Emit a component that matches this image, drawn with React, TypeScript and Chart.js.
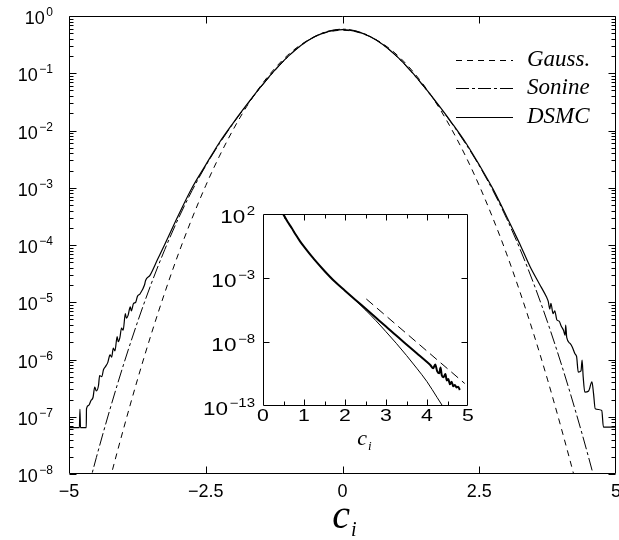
import React, { useEffect, useRef } from 'react';
import { Chart, registerables } from 'chart.js';

Chart.register(...registerables);

// ---------------- Main panel data ----------------
const xTickValues = [-5, -2.5, 0, 2.5, 5];
const yTickExponents = [0, -1, -2, -3, -4, -5, -6, -7, -8];

const gaussC = [
  -4.5, -4.25, -4, -3.75, -3.5, -3.25, -3, -2.75, -2.5, -2.25, -2, -1.75, -1.5, -1.25, -1, -0.75, -0.5, -0.25,
  0,
  0.25, 0.5, 0.75, 1, 1.25, 1.5, 1.75, 2, 2.25, 2.5, 2.75, 3, 3.25, 3.5, 3.75, 4, 4.25, 4.5,
];
const gaussF = [
  9.0e-10, 8.1e-9, 6.3e-8, 4.4e-7, 2.7e-6, 1.46e-5, 7.0e-5, 2.93e-4, 1.09e-3, 3.57e-3, 1.03e-2, 2.64e-2, 5.95e-2, 0.118, 0.208, 0.321, 0.439, 0.53,
  0.564,
  0.53, 0.439, 0.321, 0.208, 0.118, 5.95e-2, 2.64e-2, 1.03e-2, 3.57e-3, 1.09e-3, 2.93e-4, 7.0e-5, 1.46e-5, 2.7e-6, 4.4e-7, 6.3e-8, 8.1e-9, 9.0e-10,
];

const sonineC = [
  -4.75, -4.5, -4.25, -4, -3.75, -3.5, -3.25, -3, -2.75, -2.5, -2.25, -2, -1.75, -1.5, -1.25, -1, -0.75, -0.5, -0.25,
  0,
  0.25, 0.5, 0.75, 1, 1.25, 1.5, 1.75, 2, 2.25, 2.5, 2.75, 3, 3.25, 3.5, 3.75, 4, 4.25, 4.5, 4.75,
];
const sonineF = [
  2.4e-9, 1.94e-8, 1.36e-7, 8.32e-7, 4.44e-6, 2.06e-5, 8.28e-5, 2.91e-4, 8.91e-4, 2.42e-3, 5.89e-3, 1.32e-2, 2.78e-2, 5.62e-2, 0.108, 0.192, 0.31, 0.442, 0.547,
  0.589,
  0.547, 0.442, 0.31, 0.192, 0.108, 5.62e-2, 2.78e-2, 1.32e-2, 5.89e-3, 2.42e-3, 8.91e-4, 2.91e-4, 8.28e-5, 2.06e-5, 4.44e-6, 8.32e-7, 1.36e-7, 1.94e-8, 2.4e-9,
];

const dsmcC = [
  -5.0, -4.81, -4.8, -4.79, -4.685, -4.68, -4.64, -4.6, -4.56, -4.53, -4.5, -4.46, -4.44, -4.4, -4.37, -4.33, -4.29,
  -4.25, -4.22, -4.19, -4.16, -4.12, -4.1, -4.07, -4.04, -4.01, -3.97, -3.95, -3.92, -3.88, -3.86, -3.82, -3.78,
  -3.75, -3.7, -3.62, -3.6, -3.52, -3.38, -3.25, -3.0, -2.75, -2.5, -2.25, -2.0, -1.75, -1.5, -1.25, -1.0, -0.75,
  -0.5, -0.25, 0, 0.25, 0.5, 0.75, 1.0, 1.25, 1.5, 1.75, 2.0, 2.25, 2.5, 2.75, 3.0, 3.12, 3.25, 3.43, 3.6, 3.73,
  3.76, 3.79, 3.81, 3.85, 3.88, 3.92, 3.96, 4.0, 4.04, 4.07, 4.08, 4.1, 4.16, 4.2, 4.25, 4.28, 4.31, 4.36, 4.38,
  4.4, 4.43, 4.5, 4.56, 4.59, 4.62, 4.74, 4.77, 5.0,
];
const dsmcF = [
  6.46e-8, 6.46e-8, 1.35e-7, 6.46e-8, 6.46e-8, 1.38e-7, 1.58e-7, 1.91e-7, 2.19e-7, 3.31e-7, 2.82e-7, 3.55e-7, 5.25e-7, 5.01e-7, 6.61e-7, 7.59e-7, 8.91e-7,
  1.2e-6, 1.1e-6, 1.58e-6, 1.41e-6, 2.51e-6, 2.04e-6, 2.4e-6, 3.55e-6, 3.24e-6, 6.31e-6, 5.25e-6, 5.89e-6, 8.32e-6, 7.08e-6, 9.55e-6, 1.0e-5,
  1.26e-5, 1.41e-5, 2.0e-5, 2.4e-5, 2.95e-5, 5.62e-5, 1.02e-4, 3.31e-4, 1.0e-3, 2.51e-3, 6.17e-3, 1.35e-2, 2.82e-2, 5.7e-2, 0.11, 0.195, 0.312,
  0.44, 0.54, 0.58, 0.54, 0.44, 0.312, 0.195, 0.11, 5.7e-2, 2.82e-2, 1.35e-2, 6.17e-3, 2.51e-3, 9.55e-4, 3.16e-4, 1.82e-4, 1.0e-4, 4.17e-5, 2.09e-5, 1.23e-5,
  1.05e-5, 7.59e-6, 9.55e-6, 6.31e-6, 7.08e-6, 4.9e-6, 4.68e-6, 3.8e-6, 3.24e-6, 2.63e-6, 3.98e-6, 2.4e-6, 1.91e-6, 1.66e-6, 1.26e-6, 1.12e-6, 6.03e-7, 6.31e-7, 9.77e-7,
  5.01e-7, 2.69e-7, 2.82e-7, 4.07e-7, 2.51e-7, 1.38e-7, 1.29e-7, 6.6e-8, 6.6e-8,
];

// ---------------- Inset data ----------------
const insetXTickValues = [0, 1, 2, 3, 4, 5];
const insetYTickExponents = [2, -3, -8, -13];

const insetDsmcC = [
  0.45, 0.5, 0.6, 0.7, 0.8, 0.9, 1.0, 1.25, 1.5, 1.75, 2.0, 2.25, 2.5, 2.75, 3.0, 3.25, 3.5, 3.75, 4.0,
  4.08, 4.15, 4.2, 4.25, 4.3, 4.33, 4.36, 4.4, 4.45, 4.48, 4.52, 4.56, 4.6, 4.64, 4.68, 4.72, 4.76, 4.8,
];
const insetDsmcF = [
  158, 89.1, 25.1, 7.94, 2.4, 0.759, 0.282, 2.82e-2, 3.55e-3, 5.25e-4, 1.02e-4, 2.04e-5, 4.07e-6, 8.13e-7, 1.62e-7, 3.16e-8, 6.46e-9, 1.32e-9, 2.69e-10,
  1.58e-10, 8.91e-11, 1.78e-10, 5.01e-11, 3.55e-11, 1.0e-10, 2.51e-11, 1.78e-11, 3.16e-11, 1.0e-11, 1.26e-11, 5.01e-12, 7.94e-12, 3.55e-12, 4.47e-12, 2.82e-12, 3.16e-12, 1.78e-12,
];

const insetSonineC = [0.45, 0.5, 0.6, 0.7, 0.8, 0.9, 1.0, 1.25, 1.5, 1.75, 2.0, 2.25, 2.5, 2.75, 3.0, 3.25, 3.5, 3.75, 4.0, 4.25, 4.5];
const insetSonineF = [
  158, 89.1, 25.1, 7.94, 2.4, 0.759, 0.282, 2.82e-2, 3.55e-3, 5.25e-4, 1.02e-4, 1.91e-5, 3.16e-6, 4.79e-7, 6.31e-8, 7.94e-9, 8.91e-10, 8.91e-11, 7.94e-12, 4.47e-13, 2.51e-14,
];

const insetTailC = [2.52, 4.92];
const insetTailF = [2.29e-5, 5.75e-12];

// ---------------- Text ----------------
const xTitleBase = 'c';
const xTitleSub = 'i';
const powBase = '10';

const SANS = '"Liberation Sans", Arial, Helvetica, sans-serif';
const SERIF = '"Liberation Serif", "Times New Roman", Times, serif';

const numLabel = (v: number) => (v < 0 ? '\u2212' + String(Math.abs(v)) : String(v));
const expLabel = (e: number) => (e < 0 ? '\u2212' + String(Math.abs(e)) : String(e));

const pts = (xs: number[], ys: number[]) => xs.map((x, i) => ({ x, y: ys[i] }));

type TickSpec = {
  xMajor: number[];
  xMinor: number[];
  yMajor: number[];
  yMinor: number[];
  majorLen: number;
  minorLen: number;
};

function drawFrameAndTicks(chart: any, spec: TickSpec) {
  const ctx = chart.ctx as CanvasRenderingContext2D;
  const { left, right, top, bottom } = chart.chartArea;
  const xs = chart.scales.x;
  const ys = chart.scales.y;
  const L = Math.round(left) + 0.5;
  const R = Math.round(right) - 0.5;
  const T = Math.round(top) + 0.5;
  const B = Math.round(bottom) - 0.5;
  ctx.save();
  ctx.strokeStyle = '#000';
  ctx.lineWidth = 1;
  ctx.setLineDash([]);
  ctx.beginPath();
  ctx.rect(L, T, R - L, B - T);
  const xt = (v: number, len: number) => {
    const p = Math.round(xs.getPixelForValue(v)) + 0.5;
    ctx.moveTo(p, T);
    ctx.lineTo(p, T + len);
    ctx.moveTo(p, B);
    ctx.lineTo(p, B - len);
  };
  const yt = (v: number, len: number) => {
    const p = Math.round(ys.getPixelForValue(v)) + 0.5;
    ctx.moveTo(L, p);
    ctx.lineTo(L + len, p);
    ctx.moveTo(R, p);
    ctx.lineTo(R - len, p);
  };
  spec.xMajor.forEach((v) => xt(v, spec.majorLen));
  spec.xMinor.forEach((v) => xt(v, spec.minorLen));
  spec.yMajor.forEach((v) => yt(v, spec.majorLen));
  spec.yMinor.forEach((v) => yt(v, spec.minorLen));
  ctx.stroke();
  ctx.restore();
}

type PowOpts = {
  rightX: number;
  baseSize: number;
  supSize: number;
  baseDy: number;
  supDy: number;
  gap: number;
  stretch: number;
};

function drawPowLabels(chart: any, exps: number[], o: PowOpts) {
  const ctx = chart.ctx as CanvasRenderingContext2D;
  const ys = chart.scales.y;
  ctx.save();
  ctx.fillStyle = '#000';
  ctx.textBaseline = 'alphabetic';
  ctx.textAlign = 'left';
  exps.forEach((e) => {
    const y = ys.getPixelForValue(Math.pow(10, e));
    const sup = expLabel(e);
    ctx.font = `${o.baseSize}px ${SANS}`;
    const wb = ctx.measureText(powBase).width * o.stretch;
    ctx.font = `${o.supSize}px ${SANS}`;
    const ws = ctx.measureText(sup).width * o.stretch;
    const x0 = o.rightX - (wb + o.gap + ws);
    ctx.save();
    ctx.translate(x0, y + o.baseDy);
    ctx.scale(o.stretch, 1);
    ctx.font = `${o.baseSize}px ${SANS}`;
    ctx.fillText(powBase, 0, 0);
    ctx.restore();
    ctx.save();
    ctx.translate(x0 + wb + o.gap, y + o.supDy);
    ctx.scale(o.stretch, 1);
    ctx.font = `${o.supSize}px ${SANS}`;
    ctx.fillText(sup, 0, 0);
    ctx.restore();
  });
  ctx.restore();
}

function drawSubTitle(ctx: CanvasRenderingContext2D, cx: number, baseY: number, size: number, subSize: number, subDy: number) {
  ctx.save();
  ctx.fillStyle = '#000';
  ctx.textBaseline = 'alphabetic';
  ctx.textAlign = 'left';
  ctx.font = `italic ${size}px ${SERIF}`;
  const wBase = ctx.measureText(xTitleBase).width;
  ctx.font = `italic ${subSize}px ${SERIF}`;
  const wSub = ctx.measureText(xTitleSub).width;
  const x0 = cx - (wBase + wSub) / 2;
  ctx.font = `italic ${size}px ${SERIF}`;
  ctx.fillText(xTitleBase, x0, baseY);
  ctx.font = `italic ${subSize}px ${SERIF}`;
  ctx.fillText(xTitleSub, x0 + wBase + 1, baseY + subDy);
  ctx.restore();
}

export default function App() {
  const mainRef = useRef<HTMLCanvasElement | null>(null);
  const insetRef = useRef<HTMLCanvasElement | null>(null);

  useEffect(() => {
    if (!mainRef.current || !insetRef.current) return;

    const mainYMajor: number[] = [];
    const mainYMinor: number[] = [];
    for (let e = -8; e <= 0; e++) {
      mainYMajor.push(Math.pow(10, e));
      if (e < 0) for (let m = 2; m <= 9; m++) mainYMinor.push(m * Math.pow(10, e));
    }

    const mainPlugin = {
      id: 'mainDecor',
      afterDatasetsDraw(chart: any) {
        drawFrameAndTicks(chart, {
          xMajor: [-2.5, 0, 2.5],
          xMinor: [],
          yMajor: mainYMajor,
          yMinor: mainYMinor,
          majorLen: 7,
          minorLen: 4,
        });
        drawPowLabels(chart, yTickExponents, {
          rightX: chart.chartArea.left - 16,
          baseSize: 18,
          supSize: 12,
          baseDy: 8,
          supDy: 0,
          gap: 1.5,
          stretch: 1,
        });
        const ctx = chart.ctx as CanvasRenderingContext2D;
        const rows = [60, 88.3, 116.7];
        chart.data.datasets.forEach((ds: any, i: number) => {
          const y = Math.round(rows[i]) + 0.5;
          ctx.save();
          ctx.strokeStyle = '#000';
          ctx.lineWidth = ds.borderWidth;
          ctx.setLineDash(ds.borderDash || []);
          ctx.beginPath();
          ctx.moveTo(456, y);
          ctx.lineTo(513, y);
          ctx.stroke();
          ctx.setLineDash([]);
          ctx.fillStyle = '#000';
          ctx.font = `italic 23px ${SERIF}`;
          ctx.textBaseline = 'middle';
          ctx.textAlign = 'left';
          ctx.fillText(ds.label, 527, rows[i]);
          ctx.restore();
        });
        drawSubTitle(ctx, 344, 528, 40, 20, 8);
      },
    };

    const main = new Chart(mainRef.current, {
      type: 'line',
      data: {
        datasets: [
          {
            label: 'Gauss.',
            data: pts(gaussC, gaussF),
            borderColor: '#000',
            borderWidth: 1,
            borderDash: [6, 5],
            pointRadius: 0,
            fill: false,
            cubicInterpolationMode: 'monotone',
          },
          {
            label: 'Sonine',
            data: pts(sonineC, sonineF),
            borderColor: '#000',
            borderWidth: 1,
            borderDash: [13, 3, 3, 3],
            pointRadius: 0,
            fill: false,
            cubicInterpolationMode: 'monotone',
          },
          {
            label: 'DSMC',
            data: pts(dsmcC, dsmcF),
            borderColor: '#000',
            borderWidth: 1.2,
            borderDash: [],
            pointRadius: 0,
            fill: false,
            cubicInterpolationMode: 'monotone',
          },
        ],
      },
      options: {
        responsive: false,
        animation: false,
        devicePixelRatio: 1,
        layout: { padding: { top: 16, right: 24, left: 0, bottom: 0 } },
        plugins: { legend: { display: false }, tooltip: { enabled: false }, title: { display: false } },
        scales: {
          x: {
            type: 'linear',
            min: -5,
            max: 5,
            afterBuildTicks: (s: any) => {
              s.ticks = xTickValues.map((v) => ({ value: v }));
            },
            afterFit: (s: any) => {
              s.height = 66;
            },
            grid: { display: false, drawTicks: false },
            border: { display: false },
            ticks: {
              color: '#000',
              font: { family: SANS, size: 18 },
              padding: 7,
              maxRotation: 0,
              autoSkip: false,
              callback: (v: any) => numLabel(Number(v)),
            },
          },
          y: {
            type: 'logarithmic',
            min: 1e-8,
            max: 1,
            afterBuildTicks: (s: any) => {
              s.ticks = yTickExponents.map((e) => ({ value: Math.pow(10, e) }));
            },
            afterFit: (s: any) => {
              s.width = 69;
            },
            grid: { display: false, drawTicks: false },
            border: { display: false },
            ticks: { display: false },
          },
        },
      },
      plugins: [mainPlugin],
    } as any);

    const insetPlugin = {
      id: 'insetDecor',
      afterDatasetsDraw(chart: any) {
        drawFrameAndTicks(chart, {
          xMajor: [1, 2, 3, 4],
          xMinor: [0.5, 1.5, 2.5, 3.5, 4.5],
          yMajor: [1e-3, 1e-8],
          yMinor: [],
          majorLen: 6,
          minorLen: 4,
        });
        drawPowLabels(chart, insetYTickExponents, {
          rightX: chart.chartArea.left - 8,
          baseSize: 18,
          supSize: 12,
          baseDy: 9,
          supDy: 0.5,
          gap: 1.5,
          stretch: 1.25,
        });
        // x tick labels
        const ctx = chart.ctx as CanvasRenderingContext2D;
        const xs = chart.scales.x;
        ctx.save();
        ctx.fillStyle = '#000';
        ctx.textBaseline = 'alphabetic';
        ctx.textAlign = 'center';
        ctx.font = `17px ${SANS}`;
        insetXTickValues.forEach((v) => {
          ctx.save();
          ctx.translate(xs.getPixelForValue(v), chart.chartArea.bottom + 14.5);
          ctx.scale(1.25, 1);
          ctx.fillText(numLabel(v), 0, 0);
          ctx.restore();
        });
        ctx.restore();
        drawSubTitle(ctx, 174, 255, 22, 13, 5);
      },
    };

    const inset = new Chart(insetRef.current, {
      type: 'line',
      data: {
        datasets: [
          {
            label: 'DSMC',
            data: pts(insetDsmcC, insetDsmcF),
            borderColor: '#000',
            borderWidth: 2,
            pointRadius: 0,
            fill: false,
            cubicInterpolationMode: 'monotone',
          },
          {
            label: 'Sonine',
            data: pts(insetSonineC, insetSonineF),
            borderColor: '#000',
            borderWidth: 1,
            pointRadius: 0,
            fill: false,
            cubicInterpolationMode: 'monotone',
          },
          {
            label: 'Exponential tail',
            data: pts(insetTailC, insetTailF),
            borderColor: '#000',
            borderWidth: 1,
            borderDash: [9, 5],
            pointRadius: 0,
            fill: false,
          },
        ],
      },
      options: {
        responsive: false,
        animation: false,
        devicePixelRatio: 1,
        layout: { padding: { top: 24, right: 22, left: 0, bottom: 0 } },
        plugins: { legend: { display: false }, tooltip: { enabled: false }, title: { display: false } },
        scales: {
          x: {
            type: 'linear',
            min: 0,
            max: 5,
            afterBuildTicks: (s: any) => {
              s.ticks = insetXTickValues.map((v) => ({ value: v }));
            },
            afterFit: (s: any) => {
              s.height = 49;
            },
            grid: { display: false, drawTicks: false },
            border: { display: false },
            ticks: { display: false },
          },
          y: {
            type: 'logarithmic',
            min: 1e-13,
            max: 100,
            afterBuildTicks: (s: any) => {
              s.ticks = insetYTickExponents.map((e) => ({ value: Math.pow(10, e) }));
            },
            afterFit: (s: any) => {
              s.width = 73;
            },
            grid: { display: false, drawTicks: false },
            border: { display: false },
            ticks: { display: false },
          },
        },
      },
      plugins: [insetPlugin],
    } as any);

    return () => {
      main.destroy();
      inset.destroy();
    };
  }, []);

  return (
    <div
      style={{
        position: 'fixed',
        left: 0,
        top: 0,
        width: 619,
        height: 540,
        overflow: 'hidden',
        background: '#fff',
      }}
    >
      <canvas
        ref={mainRef}
        width={640}
        height={540}
        style={{ position: 'absolute', left: 0, top: 0, width: 640, height: 540 }}
      />
      <canvas
        ref={insetRef}
        width={300}
        height={265}
        style={{ position: 'absolute', left: 190, top: 190, width: 300, height: 265 }}
      />
    </div>
  );
}
